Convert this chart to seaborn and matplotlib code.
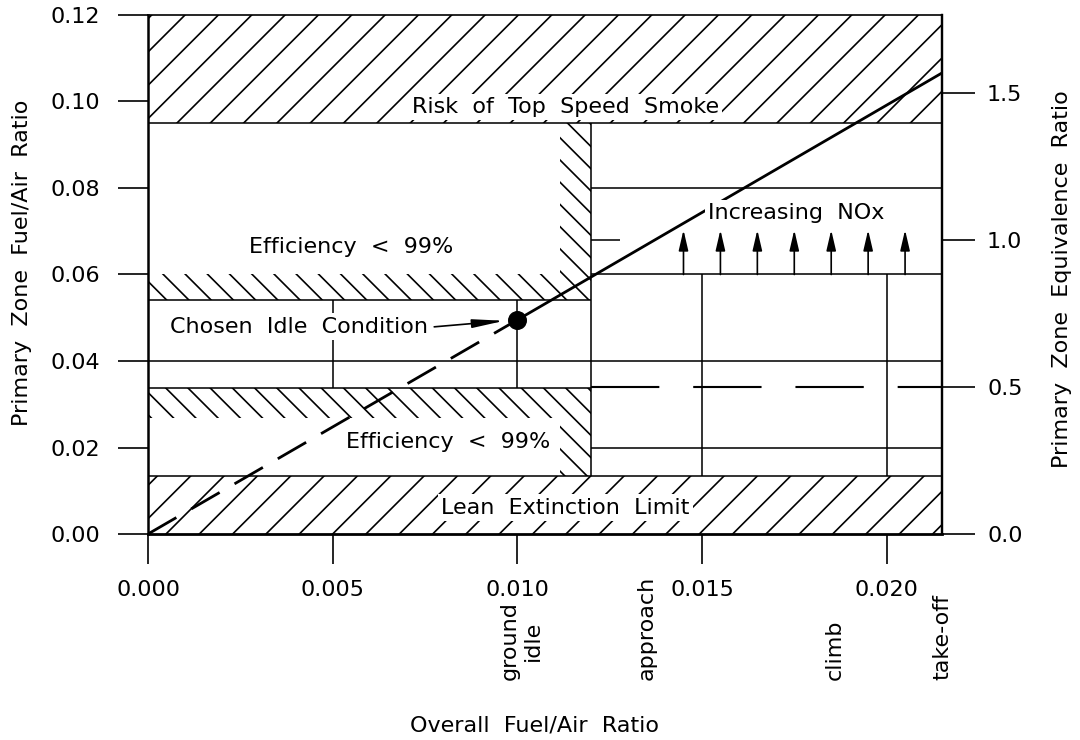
import matplotlib
matplotlib.use("Agg")
import matplotlib.pyplot as plt
import seaborn as sns

# --- data ---
# operating line: primary zone f/a vs overall f/a
overall_far = [0.0, 0.010, 0.0215]
primary_far = [0.0, 0.0495, 0.1066]
idle_point = (0.010, 0.0495)

# zone limits (primary zone f/a) and the combustor split point (overall f/a)
smoke_limit = 0.095
lean_limit = 0.0135
eff_rich_limit = 0.054
eff_lean_limit = 0.0338
split_far = 0.012
stoich_far = 0.068

# NOx arrows
nox_x = [0.0145, 0.0155, 0.0165, 0.0175, 0.0185, 0.0195, 0.0205]
nox_base = 0.060
nox_tip = 0.0703

# engine stages along the x axis
stage_labels = ["ground\nidle", "approach", "climb", "take-off"]
stage_x = [0.0101, 0.0135, 0.0186, 0.0215]

x_ticks = [0.000, 0.005, 0.010, 0.015, 0.020]
y_ticks = [0.00, 0.02, 0.04, 0.06, 0.08, 0.10, 0.12]
phi_ticks = [0.0, 0.5, 1.0, 1.5]

X_MAX = 0.0215
Y_MAX = 0.12

sns.set_theme(style="white")
plt.rcParams["font.family"] = ["DejaVu Sans"]
plt.rcParams["text.color"] = "black"
plt.rcParams["axes.labelcolor"] = "black"
plt.rcParams["hatch.linewidth"] = 0.3
plt.rcParams["hatch.color"] = "black"
plt.rcParams["lines.scale_dashes"] = False

DPI = 400
FS = 4.0
fig = plt.figure(figsize=(1080 / DPI, 740 / DPI), dpi=DPI)
ax = fig.add_axes([148 / 1080, 206 / 740, 794 / 1080, 519 / 740])
ax.set_xlim(0, X_MAX)
ax.set_ylim(0, Y_MAX)

SPARSE = "////"
DENSE = "\\" * 6

# hatched bands
wide = [0, X_MAX]
ax.fill_between(wide, smoke_limit, Y_MAX, facecolor="none", edgecolor="black",
                hatch=SPARSE, linewidth=0, zorder=1)
ax.fill_between(wide, 0, lean_limit, facecolor="none", edgecolor="black",
                hatch=SPARSE, linewidth=0, zorder=1)

# efficiency boxes: hatched strips on the inside of their edges
strip_w = 0.00084
left = [0, split_far]
ax.fill_between(left, eff_rich_limit, 0.0600, facecolor="none", edgecolor="black",
                hatch=DENSE, linewidth=0, zorder=1)
ax.fill_between([split_far - strip_w, split_far], 0.0600, smoke_limit, facecolor="none",
                edgecolor="black", hatch=DENSE, linewidth=0, zorder=1)
ax.fill_between(left, 0.0269, eff_lean_limit, facecolor="none", edgecolor="black",
                hatch=DENSE, linewidth=0, zorder=1)
ax.fill_between([split_far - strip_w, split_far], lean_limit, 0.0269, facecolor="none",
                edgecolor="black", hatch=DENSE, linewidth=0, zorder=1)

lw = 0.28
ax.hlines([smoke_limit, lean_limit, 0.04], 0, X_MAX, color="black", lw=lw, zorder=2)
ax.hlines([eff_rich_limit, eff_lean_limit], 0, split_far, color="black", lw=lw, zorder=2)
ax.hlines([0.02, 0.06, 0.08], split_far, X_MAX, color="black", lw=lw, zorder=2)
ax.hlines(stoich_far, split_far, split_far + 0.00078, color="black", lw=lw, zorder=2)
ax.vlines(split_far, lean_limit, smoke_limit, color="black", lw=lw, zorder=2)
ax.vlines([0.005, 0.010], eff_lean_limit, eff_rich_limit, color="black", lw=lw, zorder=2)
ax.vlines([0.015, 0.020], lean_limit, 0.06, color="black", lw=lw, zorder=2)
# equivalence ratio 0.5 line
ax.hlines(0.5 * stoich_far, split_far, X_MAX, color="black", lw=0.38,
          linestyles=[(0, (12.3, 6.1))], zorder=2)

# operating line, dashed below idle
sns.lineplot(x=overall_far[:2], y=primary_far[:2], ax=ax, color="black", lw=0.5,
             linestyle=(0, (5.9, 3.1)), zorder=3)
sns.lineplot(x=overall_far[1:], y=primary_far[1:], ax=ax, color="black", lw=0.5, zorder=3)
sns.scatterplot(x=[idle_point[0]], y=[idle_point[1]], ax=ax, s=10, color="black",
                edgecolor="black", zorder=4)

for xv in nox_x:
    ax.annotate("", xy=(xv, nox_tip), xytext=(xv, nox_base),
                arrowprops=dict(arrowstyle="-|>,head_length=0.31,head_width=0.072",
                                lw=0.3, color="black", shrinkA=0, shrinkB=0,
                                mutation_scale=10), zorder=4)
ax.annotate("", xy=(0.00965, 0.0493), xytext=(0.00775, 0.0479),
            arrowprops=dict(arrowstyle="-|>,head_length=0.48,head_width=0.065",
                            lw=0.3, color="black", shrinkA=0, shrinkB=0,
                            mutation_scale=10), zorder=4)

wb = dict(facecolor="white", edgecolor="none", pad=0.6)
ax.text(0.0113, 0.0987, "Risk  of  Top  Speed  Smoke", fontsize=FS, ha="center",
        va="center", bbox=wb, zorder=5)
ax.text(0.0113, 0.0061, "Lean  Extinction  Limit", fontsize=FS, ha="center",
        va="center", bbox=wb, zorder=5)
ax.text(0.0055, 0.0664, "Efficiency  <  99%", fontsize=FS, ha="center", va="center", zorder=5)
ax.text(0.00814, 0.0213, "Efficiency  <  99%", fontsize=FS, ha="center", va="center",
        bbox=wb, zorder=5)
ax.text(0.00409, 0.0479, "Chosen  Idle  Condition", fontsize=FS, ha="center",
        va="center", bbox=wb, zorder=5)
ax.text(0.01755, 0.0742, "Increasing  NOx", fontsize=FS, ha="center", va="center",
        bbox=wb, zorder=5)

for lab, xv in zip(stage_labels, stage_x):
    ax.text(xv, -0.281, lab, transform=ax.get_xaxis_transform(), rotation=90,
            ha="center", va="bottom", multialignment="center", fontsize=FS)

# axes
ax.set_xticks(x_ticks)
ax.set_xticklabels([f"{v:.3f}" for v in x_ticks])
ax.set_yticks(y_ticks)
ax.set_yticklabels([f"{v:.2f}" for v in y_ticks])
ax.tick_params(axis="both", direction="out", length=5.4, width=0.3, labelsize=FS,
               colors="black")
ax.tick_params(axis="x", pad=2.9)
ax.tick_params(axis="y", pad=3.2)
ax.tick_params(axis="both", which="both", bottom=True, left=True)

for side, w in {"left": 0.45, "bottom": 0.5, "top": 0.3, "right": 0.4}.items():
    ax.spines[side].set_linewidth(w)
    ax.spines[side].set_color("black")

sec = ax.secondary_yaxis("right", functions=(lambda f: f / stoich_far,
                                             lambda p: p * stoich_far))
sec.set_yticks(phi_ticks)
sec.set_yticklabels([f"{v:.1f}" for v in phi_ticks])
sec.tick_params(direction="out", length=5.9, width=0.3, labelsize=FS, pad=2.2,
                colors="black", right=True)
sec.spines["right"].set_linewidth(0.4)
sec.spines["right"].set_color("black")

ax.set_xlabel("Overall  Fuel/Air  Ratio", fontsize=FS)
ax.xaxis.set_label_coords(0.487, -0.349)
ax.set_ylabel("Primary  Zone  Fuel/Air  Ratio", fontsize=FS)
ax.yaxis.set_label_coords(-0.146, 0.523)
ax.text(1.151, 0.491, "Primary  Zone  Equivalence  Ratio", transform=ax.transAxes,
        rotation=90, ha="center", va="center", fontsize=FS)

fig.savefig("out.png", dpi=DPI)
plt.close(fig)
